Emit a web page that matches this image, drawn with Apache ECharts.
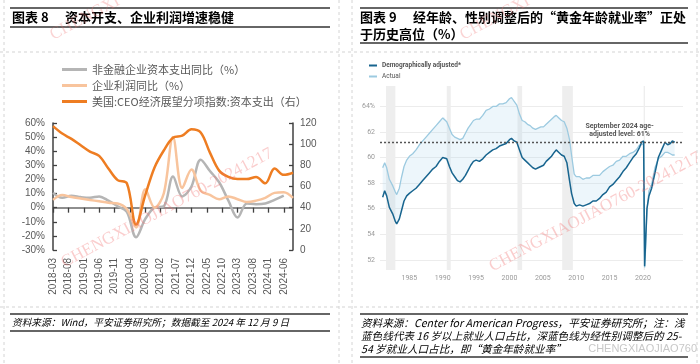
<!DOCTYPE html>
<html><head><meta charset="utf-8">
<script src="https://cdn.jsdelivr.net/npm/echarts@6/dist/echarts.min.js"></script>
<style>html,body{margin:0;padding:0;background:#fff}#c{width:700px;height:364px}</style>
</head><body><div id="c"></div>
<script>
// ===== Chart 8 data =====
const months = [];
for (let y = 2018; y <= 2024; y++) for (let m = 1; m <= 12; m++) {
  const s = y + '-' + String(m).padStart(2, '0');
  if (s >= '2018-03' && s <= '2024-09') months.push(s);
}
const quarters = ['2018-03','2018-06','2018-09','2018-12','2019-03','2019-06','2019-09','2019-12',
  '2020-03','2020-06','2020-09','2020-12','2021-03','2021-06','2021-09','2021-12',
  '2022-03','2022-06','2022-09','2022-12','2023-03','2023-06','2023-09','2023-12',
  '2024-03','2024-06','2024-09'];
const capexYoY  = [10.5,7,8.5,7.5,7,8,5,1,-3,-21,-8,0,1,22,8,15,34,26,18,5,-7,3,2.5,3,5.5,8.5];
const profitYoY = [5.5,9,7.5,6.5,5.5,4.5,3.5,3,-1,-14,13,0,10,50,14,27,12,9,6,8,6,4,5,7,10.5,11,7];
const ceoCapex  = [117,110,105,99,93,89,77,66,63,24,52,78,94,106,108,114,111,92,75,69,67,67,69,63,77,71,73];

// ===== Chart 9 data =====
const years = [
 1981.0,1981.3,1981.6,1982.0,1982.5,1982.9,1983.1,1983.5,1983.8,1984.2,
 1984.6,1985.0,1985.5,1986.0,1986.5,1987.0,1987.5,1988.0,1988.5,1989.0,
 1989.5,1990.0,1990.2,1990.6,1991.0,1991.4,1991.8,1992.2,1992.6,1993.0,
 1993.4,1993.8,1994.2,1994.6,1995.0,1995.5,1996.0,1996.5,1997.0,1997.5,
 1998.0,1998.5,1999.0,1999.5,2000.0,2000.3,2000.7,2001.1,2001.5,2001.9,
 2002.3,2002.7,2003.1,2003.5,2003.9,2004.3,2004.7,2005.1,2005.5,2005.9,
 2006.3,2006.7,2007.0,2007.4,2007.8,2008.2,2008.6,2009.0,2009.3,2009.7,
 2010.0,2010.5,2011.0,2011.5,2012.0,2012.5,2013.0,2013.5,2014.0,2014.5,
 2015.0,2015.5,2016.0,2016.5,2017.0,2017.5,2018.0,2018.5,2019.0,2019.5,
 2019.8,2020.1,2020.25,2020.4,2020.6,2020.9,2021.3,2021.8,2022.3,2022.8,
 2023.3,2023.7,2024.1,2024.4,2024.75];
const actualRate = [
 59.2,59.6,59.2,58.3,57.8,57.3,57.1,57.6,58.4,59.3,
 59.8,60.1,60.3,60.6,61.0,61.3,61.6,61.9,62.2,62.5,
 62.8,63.1,63.2,62.8,62.3,61.8,61.6,61.5,61.4,61.5,
 61.9,62.3,62.6,62.9,63.0,63.0,63.3,63.7,63.8,64.0,
 64.0,64.2,64.2,64.3,64.6,64.7,64.4,64.1,63.4,62.9,
 62.8,62.6,62.5,62.3,62.2,62.3,62.4,62.4,62.6,62.8,
 63.0,63.2,63.3,63.1,62.9,62.8,62.3,61.4,60.2,58.7,
 58.5,58.5,58.3,58.4,58.4,58.6,58.6,58.6,58.9,59.1,
 59.3,59.4,59.7,59.8,60.1,60.1,60.3,60.4,60.6,61.0,
 61.0,61.1,51.4,52.9,55.9,57.4,57.9,59.2,59.9,60.1,
 60.4,60.4,60.3,60.2,60.2];
const adjustedRate = [
 56.9,57.4,57.0,56.1,55.6,55.0,54.8,55.2,55.8,56.6,
 57.0,57.2,57.4,57.6,57.9,58.2,58.5,58.8,59.1,59.3,
 59.7,60.0,60.1,59.9,59.3,58.8,58.5,58.2,58.1,58.3,
 58.6,59.0,59.4,59.7,59.8,59.7,59.9,60.2,60.4,60.6,
 60.7,60.9,61.0,61.1,61.4,61.5,61.3,61.2,60.6,60.0,
 59.8,59.6,59.4,59.2,59.1,59.2,59.3,59.4,59.7,59.9,
 60.1,60.4,60.6,60.4,60.2,60.1,59.6,58.2,57.2,56.4,
 56.2,56.3,56.2,56.3,56.4,56.6,56.6,56.8,57.1,57.3,
 57.7,57.9,58.2,58.5,58.9,59.2,59.6,60.0,60.3,60.8,
 61.2,61.3,51.5,53.5,56.0,57.0,57.6,58.8,60.0,60.6,
 61.2,61.0,61.1,61.3,61.2];
const recessions = [[1981.5,1982.9],[1990.6,1991.2],[2001.2,2001.9],[2007.9,2009.5],[2020.1,2020.3]];
const yearTicks = [1985,1990,1995,2000,2005,2010,2015,2020];
const rateTicks = [52,54,56,58,60,62,64];
const latestLevel = 61.2;

// ===== build =====
const CJK = '"Noto Sans CJK SC", sans-serif';

function T(x, y, text, o) {
  o = o || {};
  return {type:'text', x:x, y:y, rotation:o.rot||0, z:o.z||100, silent:true,
    style:{text:text, fill:o.color||'#000', fontSize:o.size||10, fontWeight:o.weight||'normal',
      fontStyle:o.style||'normal', fontFamily:o.family||CJK, align:o.align||'left', verticalAlign:'middle', opacity:o.opacity==null?1:o.opacity}};
}
function L(x1,y1,x2,y2,o) {
  o = o || {};
  return {type:'line', silent:true, z:o.z||90, shape:{x1:x1,y1:y1,x2:x2,y2:y2},
    style:{stroke:o.color||'#333', lineWidth:o.width||1, lineDash:o.dash||null}};
}
const dashC = '#d4d4d4';
const graphic = [
  L(4,0,4,364,{color:dashC,dash:[3,3]}), L(339,0,339,364,{color:dashC,dash:[3,3]}),
  L(352,0,352,364,{color:dashC,dash:[3,3]}), L(697,0,697,364,{color:dashC,dash:[3,3]}),
  L(0,52,700,52,{color:dashC,dash:[3,3]}), L(0,307,700,307,{color:dashC,dash:[3,3]}),
  // titles
  L(10,8,330,8,{width:1.5}), L(10,27,330,27,{width:1.5}),
  T(12,17.5,'图表 8',{size:13,weight:'bold'}),
  T(65,17.5,'资本开支、企业利润增速稳健',{size:13,weight:'bold'}),
  L(360,8,688,8,{width:1.5}), L(360,43,688,43,{width:1.5}),
  T(360,17.5,'图表 9',{size:13,weight:'bold'}),
  T(413,17.5,'经年龄、性别调整后的“黄金年龄就业率”正处',{size:13,weight:'bold'}),
  T(360,34.5,'于历史高位（%）',{size:13,weight:'bold'}),
  // footers
  L(10,314,330,314,{width:1.3}), L(10,331,330,331,{width:1.3}),
  T(12,322.5,'资料来源：Wind，平安证券研究所；数据截至 2024 年 12 月 9 日',{size:9.7,style:'italic'}),
  L(360,314,688,314,{width:1.3}), L(360,357,688,357,{width:1.3}),
  T(361,322.5,'资料来源：Center for American Progress，平安证券研究所；注：浅',{size:10.6,style:'italic'}),
  T(361,335.5,'蓝色线代表 16 岁以上就业人口占比，深蓝色线为经性别调整后的 25-',{size:10.6,style:'italic'}),
  T(361,348.5,'54 岁就业人口占比，即“黄金年龄就业率”',{size:10.6,style:'italic'}),
  T(697,348.5,'CHENGXIAOJIAO760',{size:11,color:'#c8c8c8',align:'right',family:'"Liberation Sans", sans-serif'}),
  // watermarks
  T(167,208,'CHENGXIAOJIAO760-20241217',{size:17,color:'#f07070',opacity:0.35,align:'center',rot:28*Math.PI/180,family:'"Liberation Serif", serif'}),
  T(595,212,'CHENGXIAOJIAO760-20241217',{size:17,color:'#f07070',opacity:0.35,align:'center',rot:28*Math.PI/180,family:'"Liberation Serif", serif'}),
  T(85,18,'CHENGXI',{size:17,color:'#f07070',opacity:0.3,align:'center',rot:28*Math.PI/180,family:'"Liberation Serif", serif'}),
  T(495,18,'CHENGXI',{size:17,color:'#f07070',opacity:0.3,align:'center',rot:28*Math.PI/180,family:'"Liberation Serif", serif'})
];

const axisGray = '#404040';
const option = {
  animation:false,
  graphic: graphic,
  legend:[
    {data:['非金融企业资本支出同比（%）','企业利润同比（%）','美国:CEO经济展望分项指数:资本支出（右）'],
     left:57, top:59, orient:'vertical', icon:'rect', itemWidth:25, itemHeight:3, itemGap:5,
     textStyle:{fontSize:11, color:'#595959', fontFamily:CJK}},
    {data:[{name:'Demographically adjusted*', textStyle:{fontWeight:'bold'}}, {name:'Actual'}],
     left:364, top:57, orient:'vertical', icon:'rect', itemWidth:8, itemHeight:2, itemGap:4, itemStyle:{borderWidth:0},
     textStyle:{fontSize:6.5, color:'#555', fontFamily:'Roboto, sans-serif'}}
  ],
  grid:[
    {left:53, right:407, top:123, bottom:114},
    {left:380, right:17, top:86, bottom:94}
  ],
  xAxis:[
    {type:'category', gridIndex:0, data:months, boundaryGap:false,
     axisLine:{onZero:true, onZeroAxisIndex:0, lineStyle:{color:'#6a6a6a', width:1.5}},
     axisTick:{interval:4, length:5, lineStyle:{color:axisGray, width:1.3}},
     axisLabel:{show:false}, splitLine:{show:false}},
    {type:'category', gridIndex:0, data:months, boundaryGap:false, position:'bottom',
     axisLine:{show:false, onZero:false}, axisTick:{show:false},
     axisLabel:{interval:4, rotate:90, margin:8, fontSize:10, color:'#595959', fontFamily:'"Liberation Sans", Arial, sans-serif'}},
    {type:'value', gridIndex:1, min:1980.6, max:2026, axisLine:{show:false}, axisTick:{show:false}, splitLine:{show:false},
     axisLabel:{customValues:yearTicks, formatter:v=>String(v), fontSize:7, color:'#9a9a9a', margin:5, fontFamily:'Roboto, sans-serif'}}
  ],
  yAxis:[
    {type:'value', gridIndex:0, min:-30, max:60, interval:10, position:'left',
     axisLine:{show:true, lineStyle:{color:axisGray, width:1.5}}, axisTick:{show:true, inside:true, length:4, lineStyle:{color:axisGray, width:1.3}},
     axisLabel:{formatter:'{value}%', fontSize:10, color:'#595959', margin:8, fontFamily:'"Liberation Sans", Arial, sans-serif'}, splitLine:{show:false}},
    {type:'value', gridIndex:0, min:0, max:120, interval:20, position:'right',
     axisLine:{show:true, lineStyle:{color:axisGray, width:1.5}}, axisTick:{show:true, inside:true, length:4, lineStyle:{color:axisGray, width:1.3}},
     axisLabel:{fontSize:10, color:'#595959', margin:7, fontFamily:'"Liberation Sans", Arial, sans-serif'}, splitLine:{show:false}},
    {type:'value', gridIndex:1, min:51.2, max:65.6, axisLine:{show:false},
     axisTick:{show:false, customValues:rateTicks},
     axisLabel:{customValues:rateTicks, formatter:v=>v===64?'64%':String(v), fontSize:7, color:'#9a9a9a', margin:5, fontFamily:'Roboto, sans-serif'},
     splitLine:{show:true, lineStyle:{color:'#ececec', width:1}}}
  ],
  series:[
    {name:'非金融企业资本支出同比（%）', type:'line', xAxisIndex:0, yAxisIndex:0,
     data:capexYoY.map((v,i)=>[quarters[i], v]), smooth:0.35, symbol:'none',
     lineStyle:{color:'#b5b5b5', width:2.5}, itemStyle:{color:'#b5b5b5'}, z:2},
    {name:'企业利润同比（%）', type:'line', xAxisIndex:0, yAxisIndex:0,
     data:profitYoY.map((v,i)=>[quarters[i], v]), smooth:0.35, symbol:'none',
     lineStyle:{color:'#f8c49d', width:2.5}, itemStyle:{color:'#f8c49d'}, z:3},
    {name:'美国:CEO经济展望分项指数:资本支出（右）', type:'line', xAxisIndex:0, yAxisIndex:1,
     data:ceoCapex.map((v,i)=>[quarters[i], v]), smooth:0.35, symbol:'none',
     lineStyle:{color:'#ee7d22', width:2.5}, itemStyle:{color:'#ee7d22'}, z:4},

    {name:'gapFill', type:'custom', xAxisIndex:2, yAxisIndex:2, silent:true, z:2, clip:true,
     data:[[years[0], actualRate[0]]],
     renderItem:function(params, api){
       const pts = [];
       for (let i = 0; i < years.length; i++) pts.push(api.coord([years[i], actualRate[i]]));
       for (let i = years.length - 1; i >= 0; i--) pts.push(api.coord([years[i], adjustedRate[i]]));
       return {type:'polygon', shape:{points:pts}, style:{fill:'rgba(175,212,236,0.22)', stroke:null}};
     },
     markArea:{silent:true, itemStyle:{color:'#eeeeee'}, data:recessions.map(r=>[{xAxis:r[0]},{xAxis:r[1]}])}},
    {name:'Actual', type:'line', xAxisIndex:2, yAxisIndex:2, data:years.map((y,i)=>[y, actualRate[i]]), symbol:'none',
     lineStyle:{color:'#9ccae0', width:1.3}, itemStyle:{color:'#9ccae0'}, z:3},
    {name:'Demographically adjusted*', type:'line', xAxisIndex:2, yAxisIndex:2, data:years.map((y,i)=>[y, adjustedRate[i]]), symbol:'none',
     lineStyle:{color:'#18658f', width:1.5}, itemStyle:{color:'#18658f'}, z:4,
     markLine:{silent:true, symbol:'none', label:{show:false}, lineStyle:{color:'#555', type:[2,2], width:1.3},
       data:[{yAxis:latestLevel}]},
     markPoint:{silent:true, symbol:'rect', symbolSize:1, itemStyle:{color:'rgba(0,0,0,0)'},
       label:{show:true, position:'inside', formatter:'September 2024 age-\nadjusted level: 61%', fontSize:7, fontWeight:'bold', color:'#555', lineHeight:8, align:'center', fontFamily:'Roboto, sans-serif'},
       data:[{coord:[2016.5, 62.17]}]}}
  ]
};
const chart = echarts.init(document.getElementById('c'), null, {renderer:'canvas'});
chart.setOption(option);
</script></body></html>
